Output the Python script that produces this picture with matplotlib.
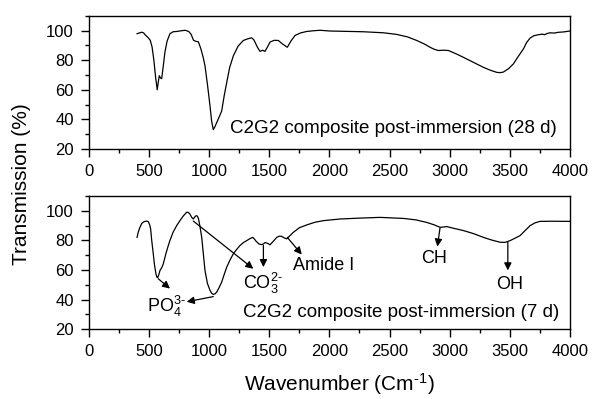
import matplotlib
matplotlib.use('Agg')
import matplotlib.pyplot as plt
from matplotlib.ticker import MultipleLocator

plt.rcParams['font.family'] = ['Liberation Sans', 'DejaVu Sans']
plt.rcParams['mathtext.fontset'] = 'custom'
plt.rcParams['mathtext.rm'] = 'Liberation Sans'
plt.rcParams['mathtext.default'] = 'regular'

# espectro 28 dias (painel de cima)
wn_28 = [400, 420, 440, 455, 470, 490, 510, 525, 540, 555, 568, 578, 585, 595,
         605, 615, 632, 650, 674, 700, 730, 770, 800, 830, 850, 870, 890, 910,
         930, 950, 965, 985, 1007, 1020, 1034, 1048, 1062, 1080, 1104, 1125,
         1146, 1170, 1201, 1240, 1284, 1320, 1353, 1370, 1381, 1400, 1423, 1445,
         1464, 1485, 1506, 1540, 1575, 1610, 1650, 1680, 1714, 1760, 1811, 1870,
         1922, 2005, 2283, 2450, 2560, 2650, 2726, 2790, 2837, 2870, 2906, 2950,
         2990, 3050, 3114, 3200, 3281, 3340, 3392, 3420, 3447, 3490, 3530, 3570,
         3614, 3640, 3669, 3700, 3738, 3770, 3790, 3810, 3835, 3870, 3900, 3950,
         4000]
tr_28 = [98, 98.5, 99, 98.5, 97, 95.5, 93.5, 89, 80, 68, 60, 66, 69.5, 68,
         67.5, 74, 85.5, 93, 98, 99.3, 99.5, 100, 100.3, 99.5, 97.5, 93.5, 92.8, 92.5,
         88, 82, 76.3, 64, 49, 39, 33, 35, 37.7, 41, 45.6, 56,
         65, 75, 83, 89.5, 93.4, 94.5, 95.2, 94, 92.3, 89, 86, 86.8,
         86, 89, 92.3, 93.5, 93.4, 91, 88.8, 93, 96.8, 98.5, 99.5, 100,
         100.3, 99.8, 99.3, 98.6, 97.5, 95.8, 93.4, 91, 88.8, 87.5, 86.6, 86.8,
         86.6, 84.5, 82, 78.5, 75.2, 73.2, 71.8, 71.6, 72, 74.3, 77.5, 82.5,
         87.7, 92, 95, 96.6, 97.3, 97.7, 97.3, 98.1, 98.6, 98.4, 98.9, 99.2,
         99.8]

# espectro 7 dias (painel de baixo)
wn_7 = [400, 410, 424, 440, 458, 478, 494, 505, 513, 522, 535, 545, 557, 565,
        571, 580, 591, 605, 618, 640, 660, 674, 700, 730, 757, 785, 813, 827,
        840, 855, 868, 880, 890, 900, 910, 922, 938, 950, 965, 985, 1007, 1020,
        1034, 1048, 1062, 1082, 1104, 1125, 1146, 1175, 1201, 1230, 1256, 1285,
        1312, 1340, 1362, 1375, 1390, 1415, 1437, 1450, 1464, 1485, 1506, 1535,
        1562, 1583, 1603, 1625, 1645, 1670, 1700, 1750, 1811, 1880, 1950, 2088,
        2250, 2421, 2615, 2720, 2809, 2870, 2920, 2950, 2976, 3040, 3114, 3200,
        3281, 3350, 3420, 3460, 3503, 3545, 3586, 3630, 3669, 3710, 3752, 3850,
        4000]
tr_7 = [82, 85.5, 88.8, 91.5, 92.6, 93, 92.6, 90.5, 87.7, 80, 70.9, 63.5, 57.4, 55.2,
        54.7, 56.5, 59.7, 61.5, 64, 71, 76.5, 80, 85.5, 90, 93.3, 96.5, 99, 98.8,
        97.7, 95.5, 94.4, 95.8, 96.6, 96.5, 95, 90, 82, 72, 59.7, 51, 46.2, 44.3,
        43.5, 43.8, 45, 48, 51.8, 57, 61.9, 67, 70.9, 74, 76.5, 78.5,
        79.8, 81.2, 82, 81, 79.4, 77.5, 77.1, 77.5, 78.5, 78, 77, 79.5,
        82, 82.8, 82.7, 81.6, 81, 83, 85.4, 88.5, 90.4, 92.2, 93.3, 94.4,
        95, 95.5, 94.8, 93.8, 92.1, 90.5, 88.8, 89, 89.3, 88, 86.6, 84.5,
        82, 80.2, 78.7, 78.6, 79.8, 81.5, 83.2, 86.8, 89.9, 91.8, 92.8, 92.9,
        92.8]

xticks = [0, 500, 1000, 1500, 2000, 2500, 3000, 3500, 4000]
yticks = [20, 40, 60, 80, 100]

fig = plt.figure(figsize=(5.93, 3.99), dpi=100)
ax1 = fig.add_axes([0.150, 0.627, 0.811, 0.333])
ax2 = fig.add_axes([0.150, 0.175, 0.811, 0.334])

for ax in (ax1, ax2):
    ax.set_xlim(0, 4000)
    ax.set_ylim(20, 110)
    ax.set_xticks(xticks)
    ax.set_yticks(yticks)
    ax.xaxis.set_minor_locator(MultipleLocator(250))
    ax.yaxis.set_minor_locator(MultipleLocator(10))
    ax.tick_params(which='major', direction='out', length=6, width=1,
                   labelsize=12, pad=5)
    ax.tick_params(which='minor', direction='out', length=3, width=1)
    for s in ax.spines.values():
        s.set_linewidth(1)

ax1.plot(wn_28, tr_28, color='black', lw=0.9)
ax2.plot(wn_7, tr_7, color='black', lw=0.9)

ax1.text(3891, 30.4, 'C2G2 composite post-immersion (28 d)', ha='right',
         va='baseline', fontsize=13.5)
ax2.text(3913, 28.3, 'C2G2 composite post-immersion (7 d)', ha='right',
         va='baseline', fontsize=13.5)

# setas e rotulos das bandas
seta = dict(arrowstyle='-|>', color='black', lw=0.9, mutation_scale=11,
            shrinkA=0, shrinkB=0)
ax2.annotate('', xy=(674, 47.4), xytext=(577, 54), arrowprops=seta)
ax2.annotate('', xy=(813, 38.5), xytext=(1034, 42), arrowprops=seta)
ax2.text(485, 31.6, r'PO$_4^{3\text{-}}$', ha='left', va='baseline', fontsize=13)

ax2.annotate('', xy=(1367, 60.8), xytext=(868, 93), arrowprops=seta)
ax2.annotate('', xy=(1451, 61.9), xytext=(1451, 76.5), arrowprops=seta)
ax2.text(1284, 47.4, r'CO$_3^{2\text{-}}$', ha='left', va='baseline', fontsize=13)

ax2.annotate('', xy=(1770, 70.4), xytext=(1650, 82), arrowprops=seta)
ax2.text(1700, 59.7, 'Amide I', ha='left', va='baseline', fontsize=13)

ax2.annotate('', xy=(2898, 75.8), xytext=(2920, 88.4), arrowprops=seta)
ax2.text(2871, 64.6, 'CH', ha='center', va='baseline', fontsize=13)

ax2.annotate('', xy=(3484, 59.7), xytext=(3484, 78.7), arrowprops=seta)
ax2.text(3498, 47.4, 'OH', ha='center', va='baseline', fontsize=13)

fig.text(0.037, 0.538, 'Transmission (%)', rotation=90, ha='center',
         va='center', fontsize=15)
fig.text(0.572, 0.037, r'Wavenumber (Cm$^{\text{-}1}$)', ha='center', va='center',
         fontsize=15)

fig.savefig('out.png', dpi=100)
